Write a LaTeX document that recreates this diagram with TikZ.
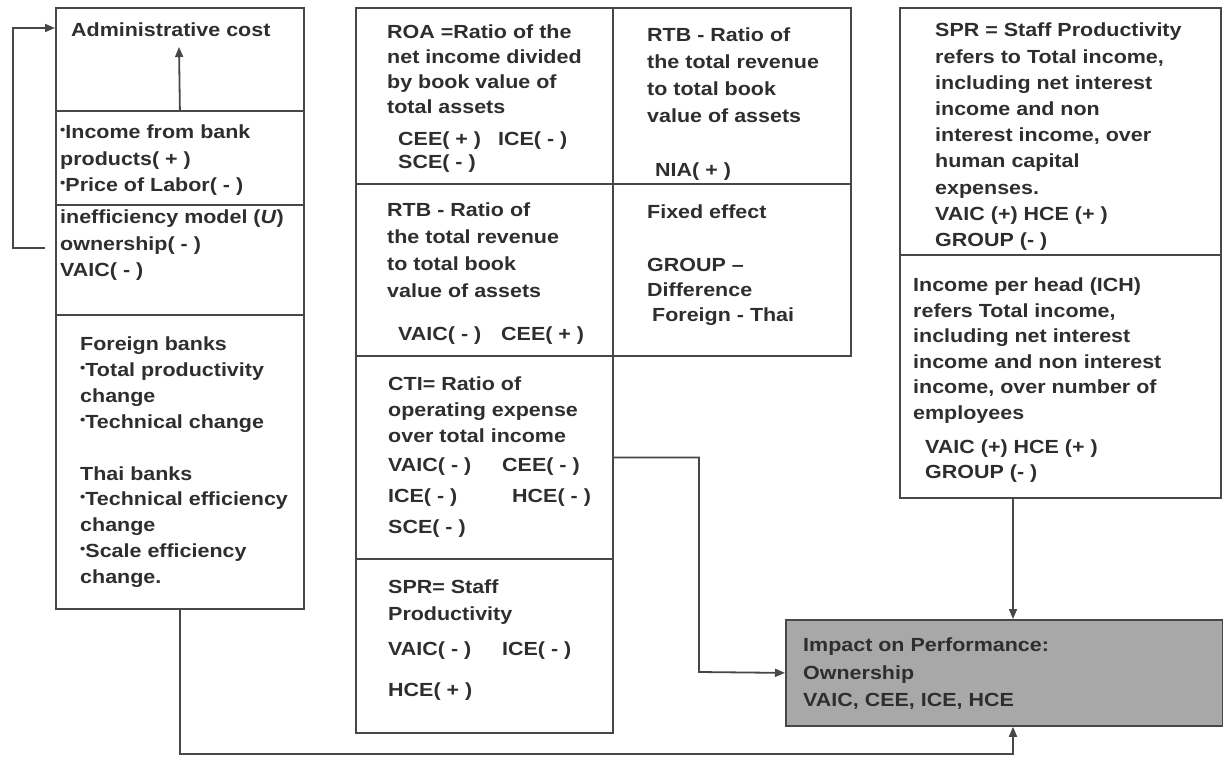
\documentclass[tikz,border=0pt]{standalone}
\usepackage{fontspec}
\usepackage{graphicx}
\usetikzlibrary{arrows.meta}
\newfontfamily\boxfont{Liberation Sans}[FakeStretch=1.13]
\newcommand{\bul}{\raisebox{0.22em}{\scalebox{0.7}{•}}}
\definecolor{ink}{HTML}{2E2E2E}
\definecolor{rule}{HTML}{474747}
\definecolor{shade}{HTML}{A8A8A8}
\tikzset{
    cell/.style={draw=rule, line width=1.8pt, anchor=north west, inner sep=0pt},
    txt/.style={anchor=north west, inner sep=0pt, align=left, text=ink,
        font=\boxfont\bfseries\fontsize{19}{#1}\selectfont},
    txt/.default=26,
    link/.style={draw=rule, line width=1.8pt, -{Triangle[length=10pt,width=8pt]}},
}

\begin{document}
\begin{tikzpicture}[x=1pt, y=-1pt]
    \useasboundingbox (0,0) rectangle (1223,756);
    \node[cell, minimum width=248pt, minimum height=103pt] (admin) at (55,7) {};
    \node[cell, minimum width=248pt, minimum height=94pt] (income) at (55,110) {};
    \node[cell, minimum width=248pt, minimum height=110pt] (ineff) at (55,204) {};
    \node[cell, minimum width=248pt, minimum height=294pt] (banks) at (55,314) {};
    \node[cell, minimum width=257pt, minimum height=176pt] (roa) at (355,7) {};
    \node[cell, minimum width=257pt, minimum height=172pt] (rtbA) at (355,183) {};
    \node[cell, minimum width=257pt, minimum height=203pt] (cti) at (355,355) {};
    \node[cell, minimum width=257pt, minimum height=174pt] (sprA) at (355,558) {};
    \node[cell, minimum width=238pt, minimum height=176pt] (rtbB) at (612,7) {};
    \node[cell, minimum width=238pt, minimum height=172pt] (fixed) at (612,183) {};
    \node[cell, minimum width=321pt, minimum height=247pt] (sprB) at (899,7) {};
    \node[cell, minimum width=321pt, minimum height=243pt] (ich) at (899,254) {};
    \node[cell, fill=shade, minimum width=437pt, minimum height=106pt] (impact) at (785,619) {};

    \node[txt] (admtext) at (71,23) {Administrative cost};
    \node[txt=26.5] (inctext) at (60,125) {\bul Income from bank\\products( + )\\\bul Price of Labor( - )};
    \node[txt=26.5] (inefftext) at (60,210) {inefficiency model (\textit{U})\\ownership( - )\\VAIC( - )};
    \node[txt=25.8] (bankstext) at (80,337) {Foreign banks\\\bul Total productivity\\change\\\bul Technical change\\[26pt]Thai banks\\\bul Technical efficiency\\change\\\bul Scale efficiency\\change.};
    \node[txt=25] (roatext) at (387,25) {ROA =Ratio of the\\net income divided\\by book value of\\total assets};
    \node[txt=23] (roavars) at (398,132) {\makebox[100pt][l]{CEE( + )}ICE( - )\\SCE( - )};
    \node[txt=26.7] (rtbBtext) at (647,28) {RTB - Ratio of\\the total revenue\\to total book\\value of assets};
    \node[txt] (rtbBvars) at (655,163) {NIA( + )};
    \node[txt=26.7] (rtbAtext) at (387,203) {RTB - Ratio of\\the total revenue\\to total book\\value of assets};
    \node[txt] (rtbAvars) at (398,327) {\makebox[103pt][l]{VAIC( - )}CEE( + )};
    \node[txt=25] (fixedtext) at (647,205) {Fixed effect\\[28pt]GROUP –\\Difference\\\hspace*{5pt}Foreign - Thai};
    \node[txt=26] (ctitext) at (388,377) {CTI= Ratio of\\operating expense\\over total income};
    \node[txt=31] (ctivars) at (388,458) {\makebox[114pt][l]{VAIC( - )}CEE( - )\\\makebox[124pt][l]{ICE( - )}HCE( - )\\SCE( - )};
    \node[txt=27] (sprAtext) at (388,580) {SPR= Staff\\Productivity};
    \node[txt=41] (sprAvars) at (388,642) {\makebox[114pt][l]{VAIC( - )}ICE( - )\\HCE( + )};
    \node[txt=26.2] (sprBtext) at (935,23) {SPR = Staff Productivity\\refers to Total income,\\including net interest\\income and non\\interest income, over\\human capital\\expenses.\\VAIC (+) HCE (+ )\\GROUP (- )};
    \node[txt=25.5] (ichtext) at (913,278) {Income per head (ICH)\\refers Total income,\\including net interest\\income and non interest\\income, over number of\\employees};
    \node[txt=25] (ichvars) at (925,440) {VAIC (+) HCE (+ )\\GROUP (- )};
    \node[txt=27.5] (impacttext) at (803,638) {Impact on Performance:\\Ownership\\VAIC, CEE, ICE, HCE};

    \coordinate (admtip) at (179,47);
    \coordinate (fbfrom) at (45,248);
    \coordinate (fbturn) at (13,28);
    \coordinate (joint) at (1013,754);
    \coordinate (bend) at (699,672);
    \draw[link] (income.north) -- (admtip);
    \draw[link] (fbfrom) -| (fbturn) -- (fbturn -| admin.west);
    \draw[link] (banks.south) |- (joint) -- (joint |- impact.south);
    \draw[link] (ich.south -| joint) -- (joint |- impact.north);
    \draw[link] (cti.east) -| (bend) -- (impact.west);
\end{tikzpicture}
\end{document}
